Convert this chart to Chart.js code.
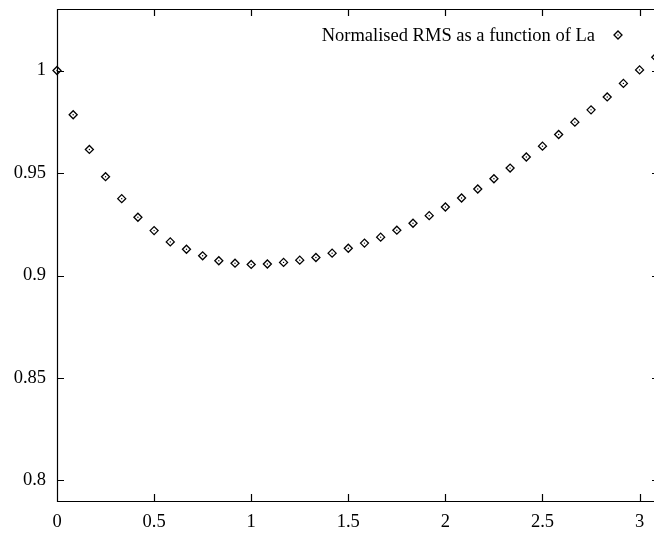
<!DOCTYPE html>
<html>
<head>
<meta charset="utf-8">
<script src="https://cdn.jsdelivr.net/npm/chart.js@4/dist/chart.umd.min.js"></script>
<style>
html,body{margin:0;padding:0;background:#fff;overflow:hidden;width:654px;height:535px;}
canvas{display:block;}
</style>
</head>
<body>
<canvas id="c" width="665" height="535"></canvas>
<script>
const seriesLabel = "Normalised RMS as a function of La";
const laValues = [0, 0.0833, 0.1667, 0.25, 0.3333, 0.4167, 0.5, 0.5833, 0.6667, 0.75,
  0.8333, 0.9167, 1.0, 1.0833, 1.1667, 1.25, 1.3333, 1.4167, 1.5, 1.5833,
  1.6667, 1.75, 1.8333, 1.9167, 2.0, 2.0833, 2.1667, 2.25, 2.3333, 2.4167,
  2.5, 2.5833, 2.6667, 2.75, 2.8333, 2.9167, 3.0, 3.0833];
const rmsValues = [1.000, 0.9784, 0.9615, 0.9482, 0.9375, 0.9284, 0.9219, 0.9164, 0.9128, 0.9096,
  0.9072, 0.9060, 0.9054, 0.9056, 0.9064, 0.9075, 0.9088, 0.9109, 0.9133, 0.9158,
  0.9187, 0.9221, 0.9255, 0.9292, 0.9334, 0.9378, 0.9422, 0.9472, 0.9524, 0.9578,
  0.9631, 0.9688, 0.9748, 0.9808, 0.9871, 0.9937, 1.0003, 1.0065];
const xTicks = [0, 0.5, 1, 1.5, 2, 2.5, 3];
const yTicks = [0.8, 0.85, 0.9, 0.95, 1];

const points = laValues.map((x, i) => ({x: x, y: rmsValues[i]}));
const FONT = {family: "'Liberation Serif', 'Times New Roman', serif", size: 18.5};

const framePlugin = {
  id: 'frame',
  afterDraw(chart) {
    const ctx = chart.ctx, a = chart.chartArea;
    const xs = chart.scales.x, ys = chart.scales.y;
    ctx.save();
    ctx.strokeStyle = '#000';
    ctx.lineWidth = 1.2;
    ctx.beginPath();
    ctx.rect(Math.round(a.left) + 0.5, Math.round(a.top) + 0.5,
             Math.round(a.right - a.left), Math.round(a.bottom - a.top));
    const T = 7;
    xTicks.forEach(v => {
      const px = Math.round(xs.getPixelForValue(v)) + 0.5;
      ctx.moveTo(px, a.bottom); ctx.lineTo(px, a.bottom - T);
      ctx.moveTo(px, a.top); ctx.lineTo(px, a.top + T);
    });
    yTicks.forEach(v => {
      const py = Math.round(ys.getPixelForValue(v)) + 0.5;
      ctx.moveTo(a.left, py); ctx.lineTo(a.left + T, py);
      ctx.moveTo(a.right, py); ctx.lineTo(a.right - T, py);
    });
    ctx.stroke();
    // key
    ctx.font = FONT.size + "px " + FONT.family;
    ctx.fillStyle = '#000';
    ctx.textAlign = 'right';
    ctx.textBaseline = 'middle';
    ctx.fillText(chart.data.datasets[1].label, 595, 36);
    const mx = 618, my = 35, r = 4;
    ctx.lineWidth = 1.3;
    ctx.beginPath();
    ctx.moveTo(mx - r, my); ctx.lineTo(mx, my - r); ctx.lineTo(mx + r, my); ctx.lineTo(mx, my + r);
    ctx.closePath();
    ctx.fillStyle = '#fff';
    ctx.fill();
    ctx.stroke();
    ctx.fillStyle = '#000';
    ctx.beginPath(); ctx.arc(mx, my, 0.7, 0, Math.PI * 2); ctx.fill();
    ctx.restore();
  }
};

new Chart(document.getElementById('c'), {
  type: 'scatter',
  data: {
    datasets: [
      {
        label: 'dots',
        data: points,
        pointStyle: 'circle',
        pointRadius: 0.7,
        pointBackgroundColor: '#000',
        pointBorderWidth: 0,
        showLine: false,
        clip: false,
        order: 0
      },
      {
        label: seriesLabel,
        data: points,
        pointStyle: 'rectRot',
        pointRadius: 4,
        pointBorderWidth: 1.3,
        pointBorderColor: '#000',
        pointBackgroundColor: '#fff',
        showLine: false,
        clip: false,
        order: 1
      }
    ]
  },
  options: {
    responsive: false,
    animation: false,
    events: [],
    layout: {padding: {top: 9, right: 6, left: 0, bottom: 0}},
    plugins: {legend: {display: false}, tooltip: {enabled: false}},
    scales: {
      x: {
        type: 'linear',
        min: 0, max: 3.1,
        afterBuildTicks: s => { s.ticks = xTicks.map(v => ({value: v})); },
        afterFit: s => { s.height = 34; s.paddingLeft = 0; s.paddingRight = 0; },
        grid: {display: false, drawTicks: false},
        border: {display: false},
        ticks: {
          color: '#000', font: FONT, padding: 10, maxRotation: 0, autoSkip: false,
          callback: v => String(v)
        }
      },
      y: {
        type: 'linear',
        min: 0.79, max: 1.03,
        afterBuildTicks: s => { s.ticks = yTicks.map(v => ({value: v})); },
        afterFit: s => { s.width = 57; s.paddingTop = 0; s.paddingBottom = 0; },
        grid: {display: false, drawTicks: false},
        border: {display: false},
        ticks: {
          color: '#000', font: FONT, padding: 11, autoSkip: false,
          callback: v => String(Math.round(v * 100) / 100)
        }
      }
    }
  },
  plugins: [framePlugin]
});
</script>
</body>
</html>
